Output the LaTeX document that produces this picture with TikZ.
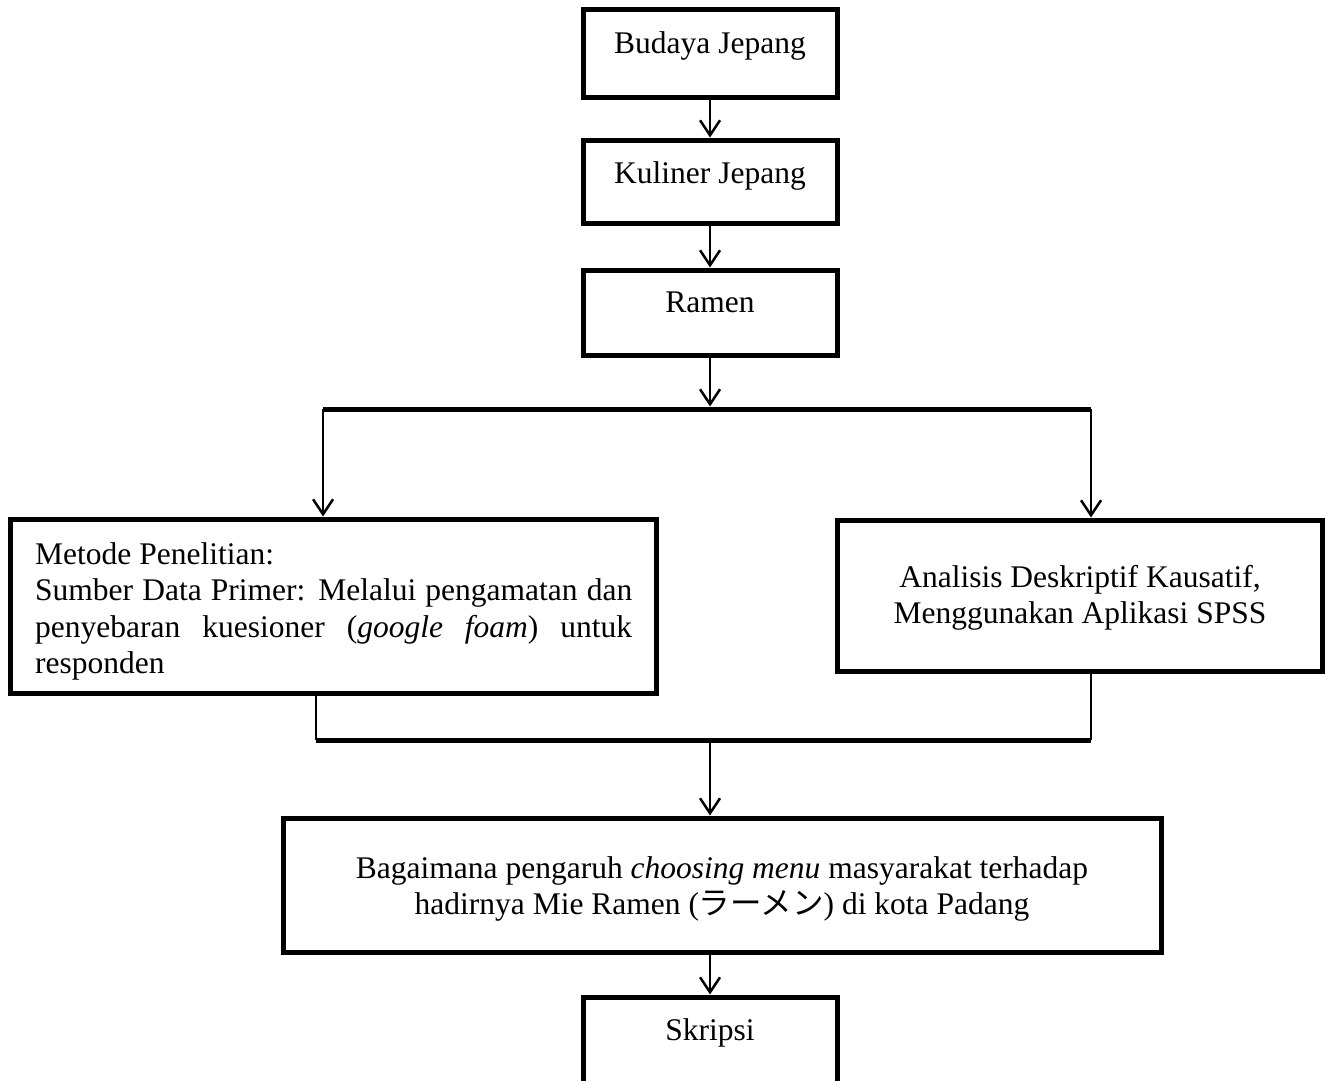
\documentclass[tikz,border=0pt]{standalone}
\usepackage{fontspec}
\setmainfont{Liberation Serif}
\newfontfamily\jpfont{Noto Sans CJK JP}
\usetikzlibrary{arrows.meta}
\begin{document}
\begin{tikzpicture}[x=1pt,y=-1pt,
  boxnode/.style={draw, line width=5pt, rectangle, inner sep=0pt},
  conn/.style={line width=2.5pt},
  arr/.style={conn, -{Straight Barb[length=15pt,width=20pt]}},
  bar/.style={line width=5pt},
  txt/.style={font=\fontsize{31.5}{36.5}\selectfont, inner sep=0pt}]
\useasboundingbox (0,0) rectangle (1325,1081);

% boxes
\node[boxnode, minimum width=254pt, minimum height=87pt] (b1) at (710,53.5) {};
\node[boxnode, minimum width=254pt, minimum height=83pt] (b2) at (710,181.5) {};
\node[boxnode, minimum width=254pt, minimum height=85pt] (b3) at (710,312.5) {};
\node[boxnode, minimum width=646pt, minimum height=174pt] (L) at (333,606) {};
\node[boxnode, minimum width=485pt, minimum height=151pt] (R) at (1079.5,595.5) {};
\node[boxnode, minimum width=878pt, minimum height=134pt] (B) at (722,885) {};
\node[boxnode, minimum width=254pt, minimum height=93pt] (S) at (710,1043.5) {};

% texts
\node[txt, anchor=base] (t1) at (710,54) {Budaya Jepang};
\node[txt, anchor=base] (t2) at (710,183) {Kuliner Jepang};
\node[txt, anchor=base] (t3) at (710,312) {Ramen};
\node[txt, anchor=north west, text width=597pt, align=justify] (tL) at (35,542)
  {Metode Penelitian:\\Sumber Data Primer: Melalui pengamatan dan\linebreak penyebaran kuesioner (\textit{google foam}) untuk\linebreak responden};
\node[txt, anchor=north, align=center] (tR) at (1080,565)
  {Analisis Deskriptif Kausatif,\\Menggunakan Aplikasi SPSS};
\node[txt, anchor=north, align=center] (tB) at (722,856)
  {Bagaimana pengaruh \textit{choosing menu} masyarakat terhadap\\hadirnya Mie Ramen ({\jpfont ラーメン}) di kota Padang};
\node[txt, anchor=base] (tS) at (710,1040) {Skripsi};

% connectors
\draw[arr] (b1.south) -- (b2.north);
\draw[arr] (b2.south) -- (b3.north);

\coordinate (j0) at (710,406.5);
\coordinate (jl) at (323,409);
\coordinate (jr) at (1091,409);
\draw[arr] (b3.south) -- (j0);
\draw[bar] (jl) -- (jr);
\draw[arr] (jl) -- (jl |- L.north);
\draw[arr] (jr) -- (jr |- R.north);

\coordinate (ml) at (316,740);
\coordinate (mr) at (1091,740);
\coordinate (m0) at (710,740);
\draw[conn] (ml |- L.south) -- (ml);
\draw[conn] (mr |- R.south) -- (mr);
\draw[bar] (ml) -- (mr);
\draw[arr] (m0) -- (m0 |- B.north);
\draw[arr] (S.north |- B.south) -- (S.north);
\end{tikzpicture}
\end{document}
